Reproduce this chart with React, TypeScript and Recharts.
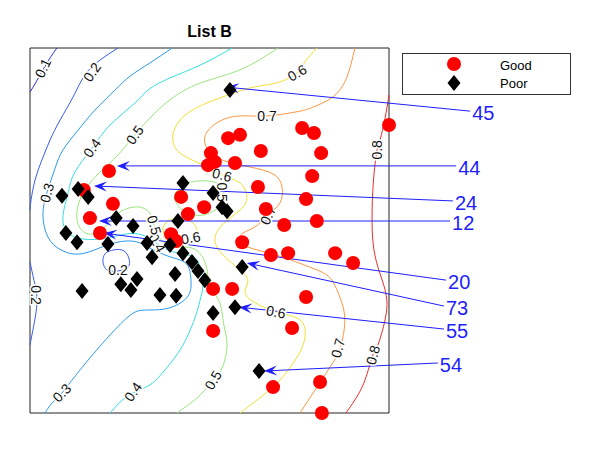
import { ComposedChart, XAxis, YAxis, Line, Scatter, ReferenceArea, ReferenceLine, Legend } from "recharts";

// data units: x 0..100 and y 0..100 span the framed box; x goes on to 140 for the callouts
const seriesNames = ["Good", "Poor"];

const good = [
  [100.0, 78.9], [75.8, 78.1], [79.1, 76.7], [55.2, 75.3], [58.5, 76.2], [64.3, 71.8], [81.1, 71.2],
  [50.4, 71.2], [51.5, 68.8], [49.6, 67.9], [57.1, 68.5], [22.0, 66.3], [78.6, 64.9], [63.5, 61.9],
  [15.0, 61.1], [42.1, 59.2], [76.9, 58.6], [48.5, 56.4], [65.7, 55.9], [23.1, 57.3], [44.0, 54.5],
  [16.7, 53.4], [79.9, 52.6], [70.8, 51.5], [19.5, 49.3], [39.3, 49.0], [40.7, 47.1], [59.1, 46.8],
  [71.9, 43.8], [67.1, 43.3], [85.0, 43.8], [90.0, 41.1], [51.0, 34.0], [56.3, 34.0], [76.9, 31.8],
  [51.0, 22.5], [73.0, 23.3], [67.7, 7.1], [80.8, 8.5], [81.3, 0],
];

const poor = [
  [55.7, 88.5], [42.6, 63.0], [51.0, 60.3], [53.5, 56.4], [54.9, 55.3], [8.9, 59.5], [13.4, 61.4],
  [16.2, 59.2], [24.0, 53.4], [28.7, 51.2], [41.2, 52.6], [10.0, 49.3], [13.1, 46.8], [21.7, 46.3],
  [32.6, 46.6], [39.0, 46.0], [34.0, 42.7], [42.6, 43.8], [45.1, 41.4], [46.8, 38.9], [48.7, 36.4],
  [40.4, 38.1], [25.3, 35.3], [29.8, 36.7], [28.1, 33.7], [14.5, 33.4], [36.2, 32.3], [40.7, 32.1],
  [51.0, 27.4], [57.1, 29.0], [59.1, 40.0], [63.8, 11.5],
];

// contour lines, one array per piece
const c01 = [[7.5, 100], [5.6, 97.3], [3.6, 94.0], [1.7, 90.7], [0, 87.9]];
const c02a = [[24.5, 100], [19.5, 96.7], [15.3, 92.6], [12.0, 86.6], [8.4, 80.3], [5.6, 74.8], [3.3, 69.3], [1.4, 63.8], [0.3, 58.4], [0, 55.6]];
const c02b = [[0, 41.4], [1.1, 36.4], [1.9, 32.3], [1.7, 27.7], [0.8, 22.7], [0, 18.6]];
const c02c = [[20.3, 41.4], [20.9, 43.6], [23.4, 44.7], [26.2, 44.4], [27.6, 42.2], [27.3, 40.0], [24.5, 38.9], [21.4, 39.2], [20.3, 41.4]];
const c03 = [
  [39.6, 100], [33.4, 95.9], [27.9, 92.3], [23.7, 88.5], [18.1, 83.0], [13.4, 77.5], [9.2, 72.1], [7.0, 67.1],
  [4.7, 60.3], [3.6, 54.2], [5.0, 48.2], [8.6, 44.7], [14.2, 43.6], [20.9, 45.8], [26.5, 47.1], [30.6, 46.6],
  [34.3, 44.7], [38.4, 43.0], [41.8, 41.9], [44.0, 40.3], [44.8, 37.0], [44.6, 33.2], [42.3, 30.4], [37.6, 28.5],
  [32.0, 28.2], [27.9, 26.8], [22.3, 21.4], [16.7, 15.1], [11.7, 9.0], [8.9, 5.5], [6.1, 2.7], [4.2, 0],
];
const c04 = [
  [56.3, 100], [47.4, 95.3], [39.0, 91.8], [32.9, 88.5], [29.2, 84.9], [22.3, 78.9], [17.3, 72.6], [12.5, 66.0],
  [10.6, 60.3], [9.2, 54.2], [10.0, 50.1], [13.4, 47.9], [19.8, 47.7], [26.5, 49.0], [31.2, 48.8], [34.8, 46.8],
  [38.4, 44.7], [42.3, 43.6], [46.0, 42.5], [47.6, 39.2], [48.2, 35.1], [47.4, 31.0], [46.2, 26.8], [42.6, 18.6],
  [37.6, 11.8], [33.4, 7.7], [28.7, 5.5], [25.1, 3.0], [22.3, 0],
];
const c05a = [
  [69.1, 100], [58.5, 94.0], [47.4, 90.4], [39.0, 85.8], [33.4, 80.8], [29.2, 76.2], [24.5, 70.7], [19.5, 66.0],
  [15.3, 61.1], [13.1, 55.6], [13.9, 50.7], [17.3, 49.0], [20.9, 51.0], [24.2, 54.5], [28.7, 56.4], [32.6, 55.6],
  [34.3, 52.3], [35.4, 49.0], [37.6, 46.6], [41.2, 45.5], [45.1, 45.2], [47.9, 43.0], [49.3, 39.2], [50.4, 34.5],
  [52.9, 30.1], [54.0, 24.1], [54.9, 18.6], [53.5, 12.3], [51.0, 9.0], [47.4, 4.9], [43.2, 1.6], [40.9, 0],
];
const c05b = [[40.4, 60.3], [43.2, 62.7], [47.4, 63.6], [52.1, 63.0], [54.0, 60.3], [53.5, 57.3], [50.1, 54.8], [46.0, 54.2], [42.1, 55.9], [40.4, 58.4], [40.4, 60.3]];
const c06a = [
  [79.9, 100], [76.6, 96.2], [74.4, 93.2], [69.6, 90.7], [64.1, 89.6], [59.3, 88.5], [51.5, 85.8], [47.4, 84.1],
  [43.2, 81.6], [40.4, 78.1], [39.8, 74.8], [41.8, 71.2], [48.2, 67.9], [53.5, 65.2], [58.5, 63.0], [60.4, 59.2],
  [58.5, 55.6], [53.5, 51.5], [51.5, 47.4], [53.5, 43.6], [57.9, 39.7], [60.7, 36.4], [59.9, 33.2], [62.4, 30.4],
  [68.5, 27.7], [75.2, 25.5], [76.6, 20.8], [74.4, 15.3], [68.8, 8.2], [62.1, 2.7], [58.5, 0],
];
const c06b = [[37.0, 50.7], [38.4, 52.6], [41.2, 53.2], [44.6, 52.6], [46.5, 50.4], [46.2, 48.2], [44.0, 46.8], [40.7, 46.6], [37.9, 47.7], [37.0, 50.7]];
const c07 = [
  [90.5, 100], [88.3, 92.1], [84.4, 86.6], [78.8, 83.8], [75.2, 82.7], [66.0, 81.4], [58.5, 81.4], [52.9, 80.0],
  [49.3, 77.0], [48.7, 74.0], [50.7, 70.7], [55.2, 68.8], [61.3, 67.4], [67.7, 65.5], [70.2, 61.9], [69.6, 57.5],
  [66.3, 54.2], [62.7, 51.0], [59.3, 49.3], [58.5, 47.4], [60.7, 45.5], [65.5, 44.1], [71.0, 42.5], [79.9, 39.2],
  [84.1, 36.4], [86.4, 31.5], [87.7, 25.5], [86.4, 17.8], [83.6, 12.6], [79.4, 6.3], [75.2, 0],
];
const c08 = [
  [100, 87.1], [98.9, 80.8], [97.5, 74.8], [96.7, 72.1], [95.8, 65.2], [95.3, 55.6], [95.8, 44.7], [98.1, 36.4],
  [99.4, 31.0], [98.9, 25.5], [96.9, 18.6], [95.5, 15.9], [93.3, 9.0], [90.5, 3.6], [88.0, 0],
];

const contourLevels = ["0.1", "0.2", "0.2", "0.2", "0.3", "0.4", "0.5", "0.5", "0.6", "0.6", "0.7", "0.8"];
const contourPieces = [c01, c02a, c02b, c02c, c03, c04, c05a, c05b, c06a, c06b, c07, c08];

const labelTexts = ["0.1", "0.2", "0.2", "0.2", "0.3", "0.3", "0.4", "0.4", "0.4", "0.5", "0.5", "0.5", "0.5", "0.6", "0.6", "0.6", "0.6", "0.7", "0.7", "0.7", "0.8", "0.8"];
const labelAt = [
  [3.6, 94.5], [17.3, 93.4], [1.7, 32.3], [24.5, 39.2], [4.7, 60.3], [8.9, 5.5], [17.3, 72.6], [28.7, 5.8],
  [35.4, 46.6], [29.2, 76.2], [34.6, 51.5], [51.0, 9.0], [53.5, 60.5], [74.4, 93.2], [53.5, 65.2], [44.8, 48.0],
  [68.5, 27.7], [66.0, 81.4], [66.3, 54.2], [85.8, 17.8], [96.7, 72.1], [95.5, 15.9],
];
const labelAngles = [-65, -55, 90, 0, -75, -45, -55, -55, 60, -55, 75, -60, 90, -30, 15, -10, 10, 0, -65, -75, -90, -75];

// callouts: number, where the text sits, which point the arrow hits
const calloutTexts = ["45", "44", "24", "12", "20", "73", "55", "54"];
const calloutFrom = [[122.6, 82.7], [118.7, 67.7], [117.8, 58.1], [117.0, 52.6], [115.9, 36.4], [115.3, 29.3], [115.3, 23.0], [113.6, 13.7]];
const calloutTo = [[54.6, 89.3], [24.2, 67.7], [17.8, 62.2], [19.2, 52.6], [20.6, 49.3], [60.4, 41.1], [58.2, 29.0], [65.2, 11.5]];

const LEVEL_COLORS: Record<string, string> = {
  "0.1": "#3030cf",
  "0.2": "#3a5cf5",
  "0.3": "#2a9bf0",
  "0.4": "#36dede",
  "0.5": "#9ae67c",
  "0.6": "#f0e030",
  "0.7": "#ff9640",
  "0.8": "#ec2b2b",
};

const FONT = "'Liberation Sans', Arial, Helvetica, sans-serif";
const BLUE = "#1f1fff";

const toXY = (a: number[][]) => a.map(([x, y]) => ({ x, y }));
const labelRows = labelTexts.map((text, i) => ({ x: labelAt[i][0], y: labelAt[i][1], text, angle: labelAngles[i] }));

function Arrow(props: any) {
  const { x1, y1, x2, y2, text } = props;
  const dx = x2 - x1;
  const dy = y2 - y1;
  const len = Math.hypot(dx, dy) || 1;
  const ux = dx / len;
  const uy = dy / len;
  const nx = -uy;
  const ny = ux;
  const headLen = 13;
  const headW = 5;
  const bx = x2 - ux * headLen;
  const by = y2 - uy * headLen;
  const mx = x2 - ux * headLen * 0.6;
  const my = y2 - uy * headLen * 0.6;
  return (
    <g>
      <line x1={x1} y1={y1} x2={mx} y2={my} stroke={BLUE} strokeWidth={1} />
      <polygon
        points={`${x2},${y2} ${bx + nx * headW},${by + ny * headW} ${mx},${my} ${bx - nx * headW},${by - ny * headW}`}
        fill={BLUE}
      />
      <text x={x1 + 2} y={y1 + 2} fontSize={20} fill={BLUE} fontFamily={FONT} dominantBaseline="central">
        {text}
      </text>
    </g>
  );
}

const ContourLabel = (p: any) => {
  const { cx, cy, payload } = p;
  return (
    <text
      x={cx}
      y={cy}
      transform={`rotate(${payload.angle} ${cx} ${cy})`}
      textAnchor="middle"
      dominantBaseline="central"
      fontSize={14}
      fontFamily={FONT}
      fill="#111"
      stroke="#fff"
      strokeWidth={3}
      paintOrder="stroke"
    >
      {payload.text}
    </text>
  );
};

const RedDot = (p: any) => <circle cx={p.cx} cy={p.cy} r={7} fill="#ff0000" />;
const Diamond = (p: any) => (
  <polygon points={`${p.cx},${p.cy - 8} ${p.cx + 6.5},${p.cy} ${p.cx},${p.cy + 8} ${p.cx - 6.5},${p.cy}`} fill="#000" />
);

const renderLegend = () => (
  <svg width={169} height={42} style={{ display: "block" }}>
    <rect x={0.5} y={0.5} width={168} height={41} fill="#fff" stroke="#333" />
    <circle cx={52} cy={11} r={7} fill="#ff0000" />
    <polygon points="52,22 58.5,30 52,38 45.5,30" fill="#000" />
    <text x={98} y={12} fontSize={13} fontFamily={FONT} dominantBaseline="central">{seriesNames[0]}</text>
    <text x={98} y={30} fontSize={13} fontFamily={FONT} dominantBaseline="central">{seriesNames[1]}</text>
  </svg>
);

export default function App() {
  return (
    <div style={{ position: "relative", width: 584, height: 439, fontFamily: FONT }}>
      <div
        style={{
          position: "absolute",
          left: 0,
          width: 403,
          top: 14,
          textAlign: "center",
          fontWeight: "bold",
          fontSize: 16,
          lineHeight: "20px",
        }}
      >
        List B
      </div>
      <ComposedChart width={584} height={439} margin={{ top: 40, right: 59.4, bottom: 34, left: 22 }}>
        <XAxis type="number" dataKey="x" domain={[0, 140]} hide />
        <YAxis type="number" dataKey="y" domain={[0, 100]} hide />
        <ReferenceArea x1={0} x2={100} y1={0} y2={100} fill="none" stroke="#222" strokeWidth={1} ifOverflow="visible" />
        {contourPieces.map((piece, i) => (
          <Line
            key={`c${i}`}
            data={toXY(piece)}
            dataKey="y"
            type="natural"
            stroke={LEVEL_COLORS[contourLevels[i]]}
            strokeWidth={1}
            dot={false}
            activeDot={false}
            legendType="none"
            isAnimationActive={false}
          />
        ))}
        <Scatter data={labelRows} shape={ContourLabel} legendType="none" isAnimationActive={false} />
        <Scatter name={seriesNames[0]} data={toXY(good)} shape={RedDot} isAnimationActive={false} />
        <Scatter name={seriesNames[1]} data={toXY(poor)} shape={Diamond} isAnimationActive={false} />
        {calloutTexts.map((t, i) => (
          <ReferenceLine
            key={t}
            segment={[
              { x: calloutFrom[i][0], y: calloutFrom[i][1] },
              { x: calloutTo[i][0], y: calloutTo[i][1] },
            ]}
            ifOverflow="visible"
            shape={(p: any) => <Arrow {...p} text={t} />}
          />
        ))}
        <Legend
          layout="vertical"
          align="center"
          verticalAlign="middle"
          wrapperStyle={{ left: 394, top: 45, width: 169, height: 42 }}
          content={renderLegend}
        />
      </ComposedChart>
    </div>
  );
}
